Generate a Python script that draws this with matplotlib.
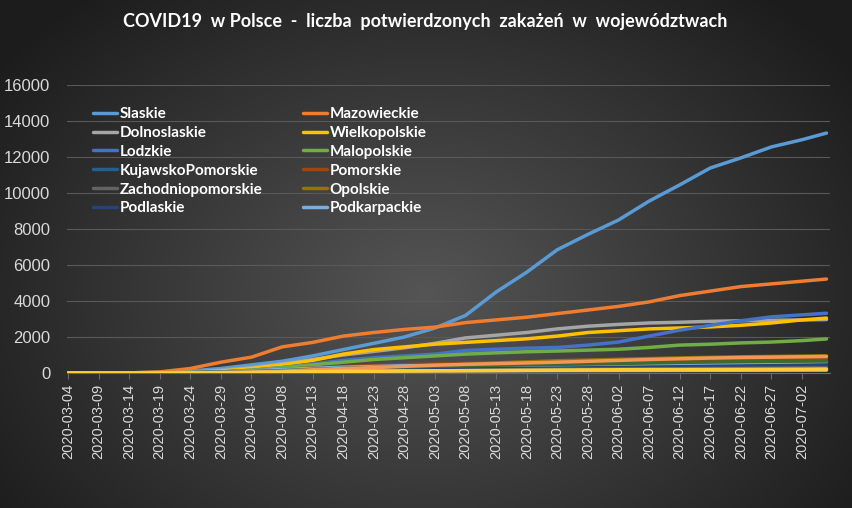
import numpy as np
import matplotlib
matplotlib.use("Agg")
import matplotlib.pyplot as plt
import matplotlib.dates as mdates
from datetime import datetime

dates = ["2020-03-04", "2020-03-09", "2020-03-14", "2020-03-19", "2020-03-24", "2020-03-29",
         "2020-04-03", "2020-04-08", "2020-04-13", "2020-04-18", "2020-04-23", "2020-04-28",
         "2020-05-03", "2020-05-08", "2020-05-13", "2020-05-18", "2020-05-23", "2020-05-28",
         "2020-06-02", "2020-06-07", "2020-06-12", "2020-06-17", "2020-06-22", "2020-06-27",
         "2020-07-02", "2020-07-06"]

slaskie = [0, 0, 10, 40, 110, 250, 450, 650, 950, 1300, 1650, 2000, 2500, 3200, 4500, 5600,
           6850, 7700, 8500, 9550, 10450, 11390, 11950, 12560, 12960, 13330]
mazowieckie = [0, 0, 5, 60, 250, 600, 880, 1450, 1700, 2050, 2250, 2420, 2550, 2800, 2950, 3100,
               3300, 3500, 3700, 3950, 4300, 4550, 4800, 4950, 5100, 5220]
dolnoslaskie = [0, 0, 0, 10, 40, 150, 300, 500, 750, 1000, 1200, 1400, 1650, 1950, 2100, 2250,
                2450, 2600, 2700, 2780, 2820, 2870, 2900, 2930, 2950, 2970]
wielkopolskie = [0, 0, 0, 5, 30, 100, 250, 450, 700, 1050, 1300, 1450, 1600, 1700, 1800, 1900,
                 2050, 2250, 2350, 2450, 2500, 2560, 2650, 2780, 2950, 3050]
lodzkie = [0, 0, 0, 5, 20, 60, 150, 300, 500, 700, 850, 950, 1050, 1250, 1320, 1380,
           1420, 1550, 1720, 2050, 2380, 2650, 2900, 3120, 3230, 3320]
malopolskie = [0, 0, 0, 5, 20, 60, 150, 300, 450, 600, 750, 850, 950, 1050, 1120, 1180,
               1220, 1270, 1320, 1420, 1550, 1600, 1670, 1720, 1800, 1890]
kujawskopomorskie = [0, 0, 0, 5, 15, 40, 80, 130, 190, 250, 290, 320, 340, 360, 380, 400,
                     410, 420, 430, 440, 450, 460, 470, 480, 490, 500]
pomorskie = [0, 0, 0, 5, 20, 60, 120, 200, 280, 350, 410, 460, 500, 540, 570, 600,
             630, 660, 690, 710, 730, 750, 770, 780, 790, 800]
zachodniopomorskie = [0, 0, 0, 2, 10, 30, 60, 100, 140, 170, 190, 210, 220, 230, 240, 250,
                      255, 260, 265, 270, 275, 280, 285, 290, 295, 300]
opolskie = [0, 0, 0, 0, 5, 20, 50, 100, 150, 200, 250, 300, 380, 480, 560, 620,
            680, 720, 760, 800, 840, 870, 900, 920, 940, 950]
podlaskie = [0, 0, 0, 2, 10, 30, 60, 100, 150, 200, 240, 280, 310, 340, 360, 380,
             400, 410, 420, 430, 440, 450, 460, 470, 480, 490]
podkarpackie = [0, 0, 0, 5, 20, 60, 120, 200, 260, 320, 360, 400, 420, 430, 440, 450,
                460, 480, 500, 520, 540, 560, 580, 600, 620, 640]
lubelskie = [0, 0, 0, 5, 15, 40, 80, 130, 200, 260, 300, 340, 370, 400, 430, 460,
             480, 500, 530, 560, 590, 610, 630, 650, 660, 670]
swietokrzyskie = [0, 0, 0, 0, 5, 20, 50, 100, 180, 250, 300, 370, 430, 480, 520, 560,
                  600, 650, 700, 750, 790, 830, 860, 880, 900, 920]
lubuskie = [0, 0, 0, 0, 5, 15, 30, 50, 70, 90, 100, 110, 120, 125, 130, 135,
            140, 142, 144, 146, 148, 150, 152, 155, 158, 160]
warminskomazurskie = [0, 0, 0, 0, 5, 15, 30, 50, 70, 90, 100, 110, 120, 130, 140, 150,
                      160, 170, 180, 185, 190, 195, 200, 205, 210, 220]

names = ["Slaskie", "Mazowieckie", "Dolnoslaskie", "Wielkopolskie", "Lodzkie", "Malopolskie",
         "KujawskoPomorskie", "Pomorskie", "Zachodniopomorskie", "Opolskie", "Podlaskie",
         "Podkarpackie", "Lubelskie", "Swietokrzyskie", "Lubuskie", "WarminskoMazurskie"]
values = [slaskie, mazowieckie, dolnoslaskie, wielkopolskie, lodzkie, malopolskie,
          kujawskopomorskie, pomorskie, zachodniopomorskie, opolskie, podlaskie,
          podkarpackie, lubelskie, swietokrzyskie, lubuskie, warminskomazurskie]
colors = ["#5B9BD5", "#ED7D31", "#A5A5A5", "#FFC000", "#4472C4", "#70AD47",
          "#255E91", "#9E480E", "#636363", "#997300", "#264478",
          "#7CAFDD", "#43682B", "#F1975A", "#B7B7B7", "#FFCD33"]
yticks = [0, 2000, 4000, 6000, 8000, 10000, 12000, 14000, 16000]
title = "COVID19  w Polsce  -  liczba  potwierdzonych  zakażeń  w  województwach"

# ---------------- figure ----------------
W, H = 852, 508
fig = plt.figure(figsize=(W / 100, H / 100), dpi=100)

# radial gradient background
bg = fig.add_axes([0, 0, 1, 1], zorder=-10)
yy, xx = np.mgrid[0:H, 0:W]
cx, cy = W * 0.50, H * 0.58
r = np.sqrt(((xx - cx) / (W * 0.62)) ** 2 + ((yy - cy) / (H * 0.78)) ** 2)
r = np.clip(r, 0, 1)
inner = np.array([0x55, 0x55, 0x55]) / 255
outer = np.array([0x1c, 0x1c, 0x1c]) / 255
img = inner[None, None, :] * (1 - r[..., None]) + outer[None, None, :] * r[..., None]
bg.imshow(img, aspect="auto", extent=[0, 1, 0, 1], origin="upper")
bg.axis("off")

ax = fig.add_axes([67 / W, (H - 373) / H, (830 - 67) / W, (373 - 85) / H])
ax.patch.set_alpha(0)

dnum = [mdates.date2num(datetime.strptime(d, "%Y-%m-%d")) for d in dates]
lines = []
for i, (n, v, c) in enumerate(zip(names, values, colors)):
    ln, = ax.plot(dnum, v, color=c, lw=2.5, solid_capstyle="round",
                  solid_joinstyle="round", zorder=3 + i * 0.01, label=n)
    lines.append(ln)

x0 = dnum[0] - 0.16
ax.set_xlim(x0, x0 + (830 - 67) / 6.117)
ax.set_ylim(0, 16000)

ax.set_yticks(yticks)
ax.set_yticklabels([str(t) for t in yticks])
ax.grid(axis="y", color="#595959", lw=0.8)
ax.set_axisbelow(True)

ax.set_xticks(dnum[:-1])
ax.set_xticklabels(dates[:-1], rotation=90)
for s in ["top", "right", "left"]:
    ax.spines[s].set_visible(False)
ax.spines["bottom"].set_color("#6a6a6a")
ax.tick_params(axis="x", colors="#6a6a6a", length=4, width=0.8, pad=4,
               labelcolor="#d9d9d9", labelsize=10.5)
ax.tick_params(axis="y", length=0, pad=12, labelcolor="#d9d9d9", labelsize=12)
for lab in ax.get_xticklabels() + ax.get_yticklabels():
    lab.set_fontfamily("Liberation Sans")

fig.text(425 / W, 1 - 21 / H, title, ha="center", va="center", color="white",
         fontsize=13.0, fontweight="bold", family="Lato")

# legend (two columns, row-wise order, frameless)
col1 = [0, 2, 4, 6, 8, 10]
col2 = [1, 3, 5, 7, 9, 11]
leg_kw = dict(frameon=False, handlelength=1.6, handletextpad=0.15,
              labelspacing=0.32, borderpad=0, borderaxespad=0, loc="upper left",
              prop={"family": "Lato", "weight": "bold", "size": 11})
leg1 = ax.legend([lines[i] for i in col1], [names[i] for i in col1],
                 bbox_to_anchor=(93 / W, 1 - 107 / H), bbox_transform=fig.transFigure,
                 **leg_kw)
for t in leg1.get_texts():
    t.set_color("white")
ax.add_artist(leg1)
leg2 = ax.legend([lines[i] for i in col2], [names[i] for i in col2],
                 bbox_to_anchor=(303 / W, 1 - 107 / H), bbox_transform=fig.transFigure,
                 **leg_kw)
for t in leg2.get_texts():
    t.set_color("white")

fig.savefig("out.png", dpi=100)
